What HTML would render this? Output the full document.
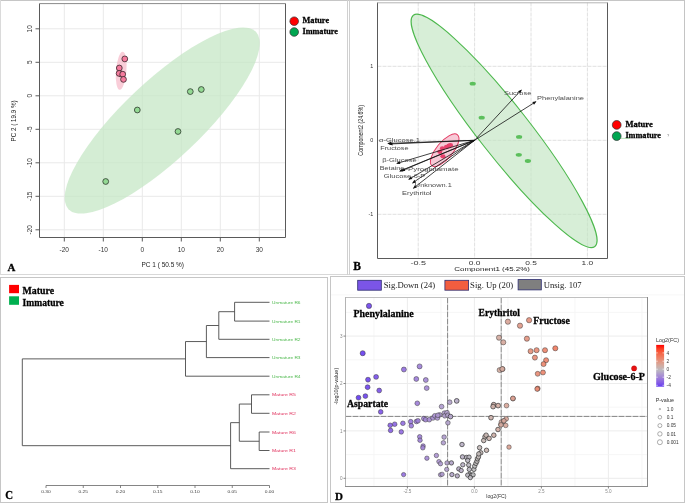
<!DOCTYPE html>
<html><head><meta charset="utf-8"><style>
html,body{margin:0;padding:0;background:#fff;}
svg{display:block;will-change:transform;}
.S{font-family:"Liberation Sans", sans-serif;}
.R{font-family:"Liberation Serif", serif;}
</style></head><body>
<svg width="685" height="503" viewBox="0 0 685 503">
<rect width="685" height="503" fill="#fff"/>
<line x1="0" y1="0.5" x2="685" y2="0.5" stroke="#c6c6c6"/>
<line x1="0" y1="274.5" x2="685" y2="274.5" stroke="#d8d8d8"/>
<line x1="0.5" y1="0" x2="0.5" y2="275" stroke="#dadada"/>
<line x1="347.5" y1="0" x2="347.5" y2="275" stroke="#d0d0d0"/>
<line x1="349.5" y1="0" x2="349.5" y2="275" stroke="#d0d0d0"/>
<line x1="684.5" y1="0" x2="684.5" y2="275" stroke="#c4c4c4"/>
<rect x="0.5" y="277.5" width="327" height="225" fill="none" stroke="#c6c6c6"/>
<rect x="330.5" y="276.5" width="354" height="226" fill="none" stroke="#c6c6c6"/>
<line x1="64.3" y1="3.5" x2="64.3" y2="237.5" stroke="#e9e9e9" stroke-width="1"/>
<line x1="103.3" y1="3.5" x2="103.3" y2="237.5" stroke="#e9e9e9" stroke-width="1"/>
<line x1="142.3" y1="3.5" x2="142.3" y2="237.5" stroke="#e9e9e9" stroke-width="1"/>
<line x1="181.3" y1="3.5" x2="181.3" y2="237.5" stroke="#e9e9e9" stroke-width="1"/>
<line x1="220.3" y1="3.5" x2="220.3" y2="237.5" stroke="#e9e9e9" stroke-width="1"/>
<line x1="259.3" y1="3.5" x2="259.3" y2="237.5" stroke="#e9e9e9" stroke-width="1"/>
<line x1="39.5" y1="28.8" x2="285.5" y2="28.8" stroke="#e9e9e9" stroke-width="1"/>
<line x1="39.5" y1="62.3" x2="285.5" y2="62.3" stroke="#e9e9e9" stroke-width="1"/>
<line x1="39.5" y1="95.8" x2="285.5" y2="95.8" stroke="#e9e9e9" stroke-width="1"/>
<line x1="39.5" y1="129.3" x2="285.5" y2="129.3" stroke="#e9e9e9" stroke-width="1"/>
<line x1="39.5" y1="162.8" x2="285.5" y2="162.8" stroke="#e9e9e9" stroke-width="1"/>
<line x1="39.5" y1="196.3" x2="285.5" y2="196.3" stroke="#e9e9e9" stroke-width="1"/>
<line x1="39.5" y1="229.8" x2="285.5" y2="229.8" stroke="#e9e9e9" stroke-width="1"/>
<ellipse cx="162.2" cy="120.5" rx="129" ry="39.3" transform="rotate(-43.4 162.2 120.5)" fill="#c4e6c4" fill-opacity="0.72"/>
<ellipse cx="121.2" cy="70.8" rx="5.2" ry="19" transform="rotate(4.8 121.2 70.8)" fill="#f7bccb" fill-opacity="0.75"/>
<path d="M39.5 3.5 V237.5 H285.5 V3.5" fill="none" stroke="#5a5a5a" stroke-width="1"/>
<line x1="39.5" y1="3.6" x2="285.5" y2="3.6" stroke="#8a8a8a" stroke-width="1"/>
<line x1="35.5" y1="28.8" x2="39.5" y2="28.8" stroke="#5a5a5a"/>
<text class="S" font-size="6.5" fill="#333" text-anchor="middle" transform="translate(31.8 28.8) rotate(-90)">10</text>
<line x1="35.5" y1="62.3" x2="39.5" y2="62.3" stroke="#5a5a5a"/>
<text class="S" font-size="6.5" fill="#333" text-anchor="middle" transform="translate(31.8 62.3) rotate(-90)">5</text>
<line x1="35.5" y1="95.8" x2="39.5" y2="95.8" stroke="#5a5a5a"/>
<text class="S" font-size="6.5" fill="#333" text-anchor="middle" transform="translate(31.8 95.8) rotate(-90)">0</text>
<line x1="35.5" y1="129.3" x2="39.5" y2="129.3" stroke="#5a5a5a"/>
<text class="S" font-size="6.5" fill="#333" text-anchor="middle" transform="translate(31.8 129.3) rotate(-90)">-5</text>
<line x1="35.5" y1="162.8" x2="39.5" y2="162.8" stroke="#5a5a5a"/>
<text class="S" font-size="6.5" fill="#333" text-anchor="middle" transform="translate(31.8 162.8) rotate(-90)">-10</text>
<line x1="35.5" y1="196.3" x2="39.5" y2="196.3" stroke="#5a5a5a"/>
<text class="S" font-size="6.5" fill="#333" text-anchor="middle" transform="translate(31.8 196.3) rotate(-90)">-15</text>
<line x1="35.5" y1="229.8" x2="39.5" y2="229.8" stroke="#5a5a5a"/>
<text class="S" font-size="6.5" fill="#333" text-anchor="middle" transform="translate(31.8 229.8) rotate(-90)">-20</text>
<line x1="64.3" y1="237.5" x2="64.3" y2="241.5" stroke="#5a5a5a"/>
<text x="64.3" y="251.8" class="S" font-size="6.5" fill="#333" text-anchor="middle">-20</text>
<line x1="103.3" y1="237.5" x2="103.3" y2="241.5" stroke="#5a5a5a"/>
<text x="103.3" y="251.8" class="S" font-size="6.5" fill="#333" text-anchor="middle">-10</text>
<line x1="142.3" y1="237.5" x2="142.3" y2="241.5" stroke="#5a5a5a"/>
<text x="142.3" y="251.8" class="S" font-size="6.5" fill="#333" text-anchor="middle">0</text>
<line x1="181.3" y1="237.5" x2="181.3" y2="241.5" stroke="#5a5a5a"/>
<text x="181.3" y="251.8" class="S" font-size="6.5" fill="#333" text-anchor="middle">10</text>
<line x1="220.3" y1="237.5" x2="220.3" y2="241.5" stroke="#5a5a5a"/>
<text x="220.3" y="251.8" class="S" font-size="6.5" fill="#333" text-anchor="middle">20</text>
<line x1="259.3" y1="237.5" x2="259.3" y2="241.5" stroke="#5a5a5a"/>
<text x="259.3" y="251.8" class="S" font-size="6.5" fill="#333" text-anchor="middle">30</text>
<text x="141.5" y="266.8" class="S" font-size="6.5" fill="#222" textLength="42.5" lengthAdjust="spacingAndGlyphs">PC 1 ( 50.5 %)</text>
<text class="S" font-size="6.4" fill="#222" text-anchor="middle" textLength="41" lengthAdjust="spacingAndGlyphs" transform="translate(15.8 120.9) rotate(-90)">PC 2 ( 19.9 %)</text>
<circle cx="124.8" cy="58.9" r="2.9" fill="#f57b9d" stroke="#3a2a2e" stroke-width="0.8"/>
<circle cx="119.3" cy="68.0" r="2.9" fill="#f57b9d" stroke="#3a2a2e" stroke-width="0.8"/>
<circle cx="121.2" cy="74.0" r="2.9" fill="#f57b9d" stroke="#3a2a2e" stroke-width="0.8"/>
<circle cx="119.1" cy="73.4" r="2.9" fill="#f57b9d" stroke="#3a2a2e" stroke-width="0.8"/>
<circle cx="122.7" cy="74.2" r="2.9" fill="#f57b9d" stroke="#3a2a2e" stroke-width="0.8"/>
<circle cx="123.5" cy="79.4" r="2.9" fill="#f57b9d" stroke="#3a2a2e" stroke-width="0.8"/>
<circle cx="105.7" cy="181.5" r="2.9" fill="#93d993" stroke="#2e3a2e" stroke-width="0.8"/>
<circle cx="137.3" cy="110.0" r="2.9" fill="#93d993" stroke="#2e3a2e" stroke-width="0.8"/>
<circle cx="178.0" cy="131.5" r="2.9" fill="#93d993" stroke="#2e3a2e" stroke-width="0.8"/>
<circle cx="190.3" cy="91.6" r="2.9" fill="#93d993" stroke="#2e3a2e" stroke-width="0.8"/>
<circle cx="201.3" cy="89.5" r="2.9" fill="#93d993" stroke="#2e3a2e" stroke-width="0.8"/>
<circle cx="294.2" cy="21.2" r="4.3" fill="#ff0000" stroke="#333" stroke-width="0.7"/>
<circle cx="294.2" cy="32" r="4.3" fill="#00a651" stroke="#333" stroke-width="0.7"/>
<text x="302.5" y="23.4" class="R" font-size="8.4" font-weight="bold" stroke="#000" stroke-width="0.28" fill="#000" textLength="26.6" lengthAdjust="spacingAndGlyphs">Mature</text>
<text x="302.5" y="34.2" class="R" font-size="8.4" font-weight="bold" stroke="#000" stroke-width="0.28" fill="#000" textLength="35.4" lengthAdjust="spacingAndGlyphs">Immature</text>
<text x="7.5" y="271.4" class="R" font-size="10.9" font-weight="bold" stroke="#000" stroke-width="0.28" fill="#000">A</text>
<line x1="418.2" y1="2.5" x2="418.2" y2="258.5" stroke="#e0e0e0" stroke-width="1" stroke-dasharray="4 1"/>
<line x1="474.6" y1="2.5" x2="474.6" y2="258.5" stroke="#e0e0e0" stroke-width="1" stroke-dasharray="4 1"/>
<line x1="531.0" y1="2.5" x2="531.0" y2="258.5" stroke="#e0e0e0" stroke-width="1" stroke-dasharray="4 1"/>
<line x1="587.4" y1="2.5" x2="587.4" y2="258.5" stroke="#e0e0e0" stroke-width="1" stroke-dasharray="4 1"/>
<line x1="377.5" y1="66.3" x2="607.5" y2="66.3" stroke="#e0e0e0" stroke-width="1" stroke-dasharray="4 1"/>
<line x1="377.5" y1="140.3" x2="607.5" y2="140.3" stroke="#e0e0e0" stroke-width="1" stroke-dasharray="4 1"/>
<line x1="377.5" y1="214.3" x2="607.5" y2="214.3" stroke="#e0e0e0" stroke-width="1" stroke-dasharray="4 1"/>
<ellipse cx="504.1" cy="130.9" rx="147" ry="25.3" transform="rotate(51.87 504.1 130.9)" fill="#c2e5c2" fill-opacity="0.65" stroke="#4db84d" stroke-width="1.1"/>
<ellipse cx="472.7" cy="83.7" rx="3.1" ry="1.9" fill="#5cbf5c"/>
<ellipse cx="481.7" cy="117.7" rx="3.1" ry="1.9" fill="#5cbf5c"/>
<ellipse cx="519.1" cy="136.9" rx="3.1" ry="1.9" fill="#5cbf5c"/>
<ellipse cx="518.8" cy="154.8" rx="3.1" ry="1.9" fill="#5cbf5c"/>
<ellipse cx="527.9" cy="161.0" rx="3.1" ry="1.9" fill="#5cbf5c"/>
<ellipse cx="444.7" cy="150.25" rx="20.1" ry="8.24" transform="rotate(-50.4 444.7 150.25)" fill="#f4b3c6" fill-opacity="0.7" stroke="#e23a62" stroke-width="1"/>
<ellipse cx="449.1" cy="145.6" rx="2.6" ry="2.1" fill="#e8406c"/>
<ellipse cx="446.5" cy="146.9" rx="2.6" ry="2.1" fill="#e8406c"/>
<ellipse cx="442.4" cy="148.4" rx="2.6" ry="2.1" fill="#e8406c"/>
<ellipse cx="439.8" cy="151.8" rx="2.6" ry="2.1" fill="#e8406c"/>
<ellipse cx="442.9" cy="156.3" rx="2.6" ry="2.1" fill="#e8406c"/>
<ellipse cx="450.5" cy="145.2" rx="2.6" ry="2.1" fill="#e8406c"/>
<line x1="474.6" y1="140.3" x2="388.2" y2="143.4" stroke="#111" stroke-width="0.8"/>
<path d="M387.2 143.4 L391.1 141.7 L391.3 144.9 Z" fill="#111"/>
<line x1="474.6" y1="140.3" x2="389.5" y2="144.0" stroke="#111" stroke-width="0.8"/>
<path d="M388.5 144.0 L392.4 142.2 L392.6 145.4 Z" fill="#111"/>
<line x1="474.6" y1="140.3" x2="397.1" y2="163.4" stroke="#111" stroke-width="0.8"/>
<path d="M396.1 163.7 L399.5 161.0 L400.4 164.1 Z" fill="#111"/>
<line x1="474.6" y1="140.3" x2="400.0" y2="171.0" stroke="#111" stroke-width="0.8"/>
<path d="M399.1 171.4 L402.2 168.4 L403.4 171.4 Z" fill="#111"/>
<line x1="474.6" y1="140.3" x2="401.9" y2="170.6" stroke="#111" stroke-width="0.8"/>
<path d="M401.0 171.0 L404.1 168.0 L405.3 170.9 Z" fill="#111"/>
<line x1="474.6" y1="140.3" x2="409.0" y2="179.3" stroke="#111" stroke-width="0.8"/>
<path d="M408.1 179.8 L410.7 176.4 L412.4 179.1 Z" fill="#111"/>
<line x1="474.6" y1="140.3" x2="412.8" y2="182.8" stroke="#111" stroke-width="0.8"/>
<path d="M412.0 183.4 L414.4 179.8 L416.2 182.4 Z" fill="#111"/>
<line x1="474.6" y1="140.3" x2="413.6" y2="188.1" stroke="#111" stroke-width="0.8"/>
<path d="M412.8 188.7 L415.0 185.0 L416.9 187.5 Z" fill="#111"/>
<line x1="474.6" y1="140.3" x2="521.2" y2="90.1" stroke="#111" stroke-width="0.8"/>
<path d="M521.9 89.4 L520.3 93.4 L518.0 91.2 Z" fill="#111"/>
<line x1="474.6" y1="140.3" x2="535.7" y2="101.8" stroke="#111" stroke-width="0.8"/>
<path d="M536.5 101.3 L534.0 104.8 L532.3 102.1 Z" fill="#111"/>
<text x="379.0" y="141.9" class="S" font-size="5.4" fill="#4a4a4a" textLength="41" lengthAdjust="spacingAndGlyphs">α-Glucose.1</text>
<text x="380.2" y="149.5" class="S" font-size="5.4" fill="#4a4a4a" textLength="28.4" lengthAdjust="spacingAndGlyphs">Fructose</text>
<text x="382.2" y="161.6" class="S" font-size="5.4" fill="#4a4a4a" textLength="34.5" lengthAdjust="spacingAndGlyphs">β-Glucose</text>
<text x="379.8" y="169.5" class="S" font-size="5.4" fill="#4a4a4a" textLength="24.5" lengthAdjust="spacingAndGlyphs">Betaine</text>
<text x="405.5" y="170.9" class="S" font-size="5.4" fill="#4a4a4a" textLength="53" lengthAdjust="spacingAndGlyphs">-Pyroglutamate</text>
<text x="383.8" y="178.0" class="S" font-size="5.4" fill="#4a4a4a" textLength="41.5" lengthAdjust="spacingAndGlyphs">Glucose-6-P</text>
<text x="414.8" y="187.4" class="S" font-size="5.4" fill="#4a4a4a" textLength="37" lengthAdjust="spacingAndGlyphs">Unknown.1</text>
<text x="402.0" y="195.0" class="S" font-size="5.4" fill="#4a4a4a" textLength="29.5" lengthAdjust="spacingAndGlyphs">Erythritol</text>
<text x="504.0" y="95.4" class="S" font-size="5.4" fill="#4a4a4a" textLength="27.3" lengthAdjust="spacingAndGlyphs">Sucrose</text>
<text x="537.0" y="99.9" class="S" font-size="5.4" fill="#4a4a4a" textLength="47" lengthAdjust="spacingAndGlyphs">Phenylalanine</text>
<path d="M377.5 2.5 V258.5 H607.5 V2.5" fill="none" stroke="#5a5a5a" stroke-width="1"/>
<line x1="377.5" y1="2.8" x2="607.5" y2="2.8" stroke="#b4b4b4" stroke-width="1"/>
<text x="373.2" y="68.2" class="S" font-size="5.4" fill="#333" text-anchor="end">1</text>
<text x="373.2" y="142.2" class="S" font-size="5.4" fill="#333" text-anchor="end">0</text>
<text x="373.2" y="216.2" class="S" font-size="5.4" fill="#333" text-anchor="end">-1</text>
<text x="418.2" y="264.8" class="S" font-size="5.4" fill="#333" text-anchor="middle" textLength="15.6" lengthAdjust="spacingAndGlyphs">-0.5</text>
<text x="474.6" y="264.8" class="S" font-size="5.4" fill="#333" text-anchor="middle" textLength="11.7" lengthAdjust="spacingAndGlyphs">0.0</text>
<text x="531.0" y="264.8" class="S" font-size="5.4" fill="#333" text-anchor="middle" textLength="11.7" lengthAdjust="spacingAndGlyphs">0.5</text>
<text x="587.4" y="264.8" class="S" font-size="5.4" fill="#333" text-anchor="middle" textLength="11.7" lengthAdjust="spacingAndGlyphs">1.0</text>
<text x="454.3" y="270.8" class="S" font-size="5.6" fill="#222" textLength="75.7" lengthAdjust="spacingAndGlyphs">Component1 (45.2%)</text>
<text class="S" font-size="5.4" fill="#222" text-anchor="middle" textLength="50.8" lengthAdjust="spacingAndGlyphs" transform="translate(363.4 130.3) rotate(-90) scale(1 1.35)">Component2 (24.6%)</text>
<circle cx="616.7" cy="124.9" r="4.4" fill="#ff0000" stroke="#333" stroke-width="0.7"/>
<circle cx="616.7" cy="136.1" r="4.4" fill="#00a651" stroke="#333" stroke-width="0.7"/>
<text x="625.4" y="126.9" class="R" font-size="8.2" font-weight="bold" stroke="#000" stroke-width="0.28" fill="#000" textLength="27.3" lengthAdjust="spacingAndGlyphs">Mature</text>
<text x="625.4" y="138.0" class="R" font-size="8.2" font-weight="bold" stroke="#000" stroke-width="0.28" fill="#000" textLength="35.6" lengthAdjust="spacingAndGlyphs">Immature</text>
<text x="667" y="136.5" class="S" font-size="4" fill="#777">?</text>
<line x1="621" y1="138.4" x2="630" y2="138.4" stroke="#8c8" stroke-width="0.6"/>
<text x="353.3" y="270.4" class="R" font-size="11.5" font-weight="bold" stroke="#000" stroke-width="0.28" fill="#000">B</text>
<rect x="9.1" y="284.9" width="9.9" height="8.3" fill="#ff0000"/>
<rect x="9.1" y="296.3" width="9.9" height="8.5" fill="#00b050"/>
<text x="22.6" y="293.6" class="R" font-size="10" font-weight="bold" stroke="#000" stroke-width="0.28" fill="#000" textLength="31.4" lengthAdjust="spacingAndGlyphs">Mature</text>
<text x="22.6" y="305.7" class="R" font-size="10" font-weight="bold" stroke="#000" stroke-width="0.28" fill="#000" textLength="41.2" lengthAdjust="spacingAndGlyphs">Immature</text>
<line x1="234.6" y1="302.3" x2="234.6" y2="321.1" stroke="#4a4a4a" stroke-width="0.9"/>
<line x1="234.6" y1="302.3" x2="269.5" y2="302.3" stroke="#4a4a4a" stroke-width="0.9"/>
<line x1="234.6" y1="321.1" x2="269.5" y2="321.1" stroke="#4a4a4a" stroke-width="0.9"/>
<line x1="218.8" y1="311.70000000000005" x2="218.8" y2="339.3" stroke="#4a4a4a" stroke-width="0.9"/>
<line x1="218.8" y1="311.70000000000005" x2="234.6" y2="311.70000000000005" stroke="#4a4a4a" stroke-width="0.9"/>
<line x1="218.8" y1="339.3" x2="269.5" y2="339.3" stroke="#4a4a4a" stroke-width="0.9"/>
<line x1="206.4" y1="325.5" x2="206.4" y2="357.6" stroke="#4a4a4a" stroke-width="0.9"/>
<line x1="206.4" y1="325.5" x2="218.8" y2="325.5" stroke="#4a4a4a" stroke-width="0.9"/>
<line x1="206.4" y1="357.6" x2="269.5" y2="357.6" stroke="#4a4a4a" stroke-width="0.9"/>
<line x1="185.5" y1="341.55" x2="185.5" y2="376.2" stroke="#4a4a4a" stroke-width="0.9"/>
<line x1="185.5" y1="341.55" x2="206.4" y2="341.55" stroke="#4a4a4a" stroke-width="0.9"/>
<line x1="185.5" y1="376.2" x2="269.5" y2="376.2" stroke="#4a4a4a" stroke-width="0.9"/>
<line x1="251.5" y1="394.8" x2="251.5" y2="413.3" stroke="#4a4a4a" stroke-width="0.9"/>
<line x1="251.5" y1="394.8" x2="269.5" y2="394.8" stroke="#4a4a4a" stroke-width="0.9"/>
<line x1="251.5" y1="413.3" x2="269.5" y2="413.3" stroke="#4a4a4a" stroke-width="0.9"/>
<line x1="259.2" y1="432.0" x2="259.2" y2="450.5" stroke="#4a4a4a" stroke-width="0.9"/>
<line x1="259.2" y1="432.0" x2="269.5" y2="432.0" stroke="#4a4a4a" stroke-width="0.9"/>
<line x1="259.2" y1="450.5" x2="269.5" y2="450.5" stroke="#4a4a4a" stroke-width="0.9"/>
<line x1="239.3" y1="404.05" x2="239.3" y2="441.25" stroke="#4a4a4a" stroke-width="0.9"/>
<line x1="239.3" y1="404.05" x2="251.5" y2="404.05" stroke="#4a4a4a" stroke-width="0.9"/>
<line x1="239.3" y1="441.25" x2="259.2" y2="441.25" stroke="#4a4a4a" stroke-width="0.9"/>
<line x1="230.6" y1="422.65" x2="230.6" y2="468.7" stroke="#4a4a4a" stroke-width="0.9"/>
<line x1="230.6" y1="422.65" x2="239.3" y2="422.65" stroke="#4a4a4a" stroke-width="0.9"/>
<line x1="230.6" y1="468.7" x2="269.5" y2="468.7" stroke="#4a4a4a" stroke-width="0.9"/>
<line x1="22.3" y1="358.875" x2="22.3" y2="445.67499999999995" stroke="#4a4a4a" stroke-width="0.9"/>
<line x1="22.3" y1="358.875" x2="185.5" y2="358.875" stroke="#4a4a4a" stroke-width="0.9"/>
<line x1="22.3" y1="445.67499999999995" x2="230.6" y2="445.67499999999995" stroke="#4a4a4a" stroke-width="0.9"/>
<text x="272.1" y="303.8" class="S" font-size="4.2" fill="#4cb84c" textLength="28.4" lengthAdjust="spacingAndGlyphs">Unmature  R6</text>
<text x="272.1" y="322.6" class="S" font-size="4.2" fill="#4cb84c" textLength="28.4" lengthAdjust="spacingAndGlyphs">Unmature  R1</text>
<text x="272.1" y="340.8" class="S" font-size="4.2" fill="#4cb84c" textLength="28.4" lengthAdjust="spacingAndGlyphs">Unmature  R2</text>
<text x="272.1" y="359.1" class="S" font-size="4.2" fill="#4cb84c" textLength="28.4" lengthAdjust="spacingAndGlyphs">Unmature  R3</text>
<text x="272.1" y="377.7" class="S" font-size="4.2" fill="#4cb84c" textLength="28.4" lengthAdjust="spacingAndGlyphs">Unmature  R4</text>
<text x="271.9" y="396.3" class="S" font-size="4.2" fill="#e0305c" textLength="24" lengthAdjust="spacingAndGlyphs">Mature R5</text>
<text x="271.9" y="414.8" class="S" font-size="4.2" fill="#e0305c" textLength="24" lengthAdjust="spacingAndGlyphs">Mature R2</text>
<text x="271.9" y="433.5" class="S" font-size="4.2" fill="#e0305c" textLength="24" lengthAdjust="spacingAndGlyphs">Mature R6</text>
<text x="271.9" y="452.0" class="S" font-size="4.2" fill="#e0305c" textLength="24" lengthAdjust="spacingAndGlyphs">Mature R1</text>
<text x="271.9" y="470.2" class="S" font-size="4.2" fill="#e0305c" textLength="24" lengthAdjust="spacingAndGlyphs">Mature R3</text>
<line x1="46" y1="485.5" x2="269.5" y2="485.5" stroke="#666" stroke-width="0.8"/>
<line x1="46.00" y1="485.5" x2="46.00" y2="488" stroke="#666" stroke-width="0.8"/>
<text x="46.00" y="493" class="S" font-size="3.6" fill="#444" text-anchor="middle" textLength="9.5" lengthAdjust="spacingAndGlyphs">0.30</text>
<line x1="83.25" y1="485.5" x2="83.25" y2="488" stroke="#666" stroke-width="0.8"/>
<text x="83.25" y="493" class="S" font-size="3.6" fill="#444" text-anchor="middle" textLength="9.5" lengthAdjust="spacingAndGlyphs">0.25</text>
<line x1="120.50" y1="485.5" x2="120.50" y2="488" stroke="#666" stroke-width="0.8"/>
<text x="120.50" y="493" class="S" font-size="3.6" fill="#444" text-anchor="middle" textLength="9.5" lengthAdjust="spacingAndGlyphs">0.20</text>
<line x1="157.75" y1="485.5" x2="157.75" y2="488" stroke="#666" stroke-width="0.8"/>
<text x="157.75" y="493" class="S" font-size="3.6" fill="#444" text-anchor="middle" textLength="9.5" lengthAdjust="spacingAndGlyphs">0.15</text>
<line x1="195.00" y1="485.5" x2="195.00" y2="488" stroke="#666" stroke-width="0.8"/>
<text x="195.00" y="493" class="S" font-size="3.6" fill="#444" text-anchor="middle" textLength="9.5" lengthAdjust="spacingAndGlyphs">0.10</text>
<line x1="232.25" y1="485.5" x2="232.25" y2="488" stroke="#666" stroke-width="0.8"/>
<text x="232.25" y="493" class="S" font-size="3.6" fill="#444" text-anchor="middle" textLength="9.5" lengthAdjust="spacingAndGlyphs">0.05</text>
<line x1="269.50" y1="485.5" x2="269.50" y2="488" stroke="#666" stroke-width="0.8"/>
<text x="269.50" y="493" class="S" font-size="3.6" fill="#444" text-anchor="middle" textLength="9.5" lengthAdjust="spacingAndGlyphs">0.00</text>
<text x="5.3" y="499.4" class="R" font-size="12" font-weight="bold" stroke="#000" stroke-width="0.28" fill="#000" textLength="7.8" lengthAdjust="spacingAndGlyphs">C</text>
<line x1="373.9" y1="297.5" x2="373.9" y2="486.5" stroke="#f4f4f4" stroke-width="0.8"/>
<line x1="440.9" y1="297.5" x2="440.9" y2="486.5" stroke="#f4f4f4" stroke-width="0.8"/>
<line x1="507.9" y1="297.5" x2="507.9" y2="486.5" stroke="#f4f4f4" stroke-width="0.8"/>
<line x1="574.9" y1="297.5" x2="574.9" y2="486.5" stroke="#f4f4f4" stroke-width="0.8"/>
<line x1="641.9" y1="297.5" x2="641.9" y2="486.5" stroke="#f4f4f4" stroke-width="0.8"/>
<line x1="407.4" y1="297.5" x2="407.4" y2="486.5" stroke="#ececec" stroke-width="1"/>
<line x1="474.4" y1="297.5" x2="474.4" y2="486.5" stroke="#ececec" stroke-width="1"/>
<line x1="541.4" y1="297.5" x2="541.4" y2="486.5" stroke="#ececec" stroke-width="1"/>
<line x1="608.4" y1="297.5" x2="608.4" y2="486.5" stroke="#ececec" stroke-width="1"/>
<line x1="345.5" y1="454.6" x2="647.5" y2="454.6" stroke="#f4f4f4" stroke-width="0.8"/>
<line x1="345.5" y1="407.2" x2="647.5" y2="407.2" stroke="#f4f4f4" stroke-width="0.8"/>
<line x1="345.5" y1="359.8" x2="647.5" y2="359.8" stroke="#f4f4f4" stroke-width="0.8"/>
<line x1="345.5" y1="312.4" x2="647.5" y2="312.4" stroke="#f4f4f4" stroke-width="0.8"/>
<line x1="345.5" y1="478.3" x2="647.5" y2="478.3" stroke="#ececec" stroke-width="1"/>
<line x1="345.5" y1="430.9" x2="647.5" y2="430.9" stroke="#ececec" stroke-width="1"/>
<line x1="345.5" y1="383.5" x2="647.5" y2="383.5" stroke="#ececec" stroke-width="1"/>
<line x1="345.5" y1="336.1" x2="647.5" y2="336.1" stroke="#ececec" stroke-width="1"/>
<line x1="447.6" y1="297.5" x2="447.6" y2="486.5" stroke="#757575" stroke-width="0.9" stroke-dasharray="6 1"/>
<line x1="501.2" y1="297.5" x2="501.2" y2="486.5" stroke="#757575" stroke-width="0.9" stroke-dasharray="6 1"/>
<line x1="345.5" y1="416.4" x2="647.5" y2="416.4" stroke="#757575" stroke-width="0.9" stroke-dasharray="6 1"/>
<circle cx="369.0" cy="305.9" r="2.63" fill="#7148ec" fill-opacity="0.92" stroke="#333" stroke-opacity="0.8" stroke-width="0.6"/>
<circle cx="362.7" cy="353.2" r="2.55" fill="#6940ef" fill-opacity="0.92" stroke="#333" stroke-opacity="0.8" stroke-width="0.6"/>
<circle cx="376.1" cy="376.9" r="2.47" fill="#7a51e9" fill-opacity="0.92" stroke="#333" stroke-opacity="0.8" stroke-width="0.6"/>
<circle cx="368.0" cy="379.7" r="2.46" fill="#7047ed" fill-opacity="0.92" stroke="#333" stroke-opacity="0.8" stroke-width="0.6"/>
<circle cx="367.6" cy="387.2" r="2.44" fill="#7047ed" fill-opacity="0.92" stroke="#333" stroke-opacity="0.8" stroke-width="0.6"/>
<circle cx="379.2" cy="390.5" r="2.43" fill="#7d54e8" fill-opacity="0.92" stroke="#333" stroke-opacity="0.8" stroke-width="0.6"/>
<circle cx="365.4" cy="396.1" r="2.41" fill="#6d44ee" fill-opacity="0.92" stroke="#333" stroke-opacity="0.8" stroke-width="0.6"/>
<circle cx="358.5" cy="397.7" r="2.41" fill="#643cf0" fill-opacity="0.92" stroke="#333" stroke-opacity="0.8" stroke-width="0.6"/>
<circle cx="380.7" cy="411.9" r="2.36" fill="#7f56e8" fill-opacity="0.92" stroke="#333" stroke-opacity="0.8" stroke-width="0.6"/>
<circle cx="403.9" cy="369.5" r="2.49" fill="#9470de" fill-opacity="0.92" stroke="#333" stroke-opacity="0.8" stroke-width="0.6"/>
<circle cx="419.6" cy="366.4" r="2.50" fill="#a082d8" fill-opacity="0.92" stroke="#333" stroke-opacity="0.8" stroke-width="0.6"/>
<circle cx="416.3" cy="379.0" r="2.46" fill="#9d7ed9" fill-opacity="0.92" stroke="#333" stroke-opacity="0.8" stroke-width="0.6"/>
<circle cx="425.8" cy="380.0" r="2.46" fill="#a489d5" fill-opacity="0.92" stroke="#333" stroke-opacity="0.8" stroke-width="0.6"/>
<circle cx="426.7" cy="388.1" r="2.44" fill="#a58ad4" fill-opacity="0.92" stroke="#333" stroke-opacity="0.8" stroke-width="0.6"/>
<circle cx="417.3" cy="403.3" r="2.39" fill="#9e7fd8" fill-opacity="0.92" stroke="#333" stroke-opacity="0.8" stroke-width="0.6"/>
<circle cx="390.2" cy="425.3" r="2.32" fill="#8861e4" fill-opacity="0.92" stroke="#333" stroke-opacity="0.8" stroke-width="0.6"/>
<circle cx="394.7" cy="424.2" r="2.32" fill="#8c66e2" fill-opacity="0.92" stroke="#333" stroke-opacity="0.8" stroke-width="0.6"/>
<circle cx="390.6" cy="430.4" r="2.30" fill="#8861e4" fill-opacity="0.92" stroke="#333" stroke-opacity="0.8" stroke-width="0.6"/>
<circle cx="402.9" cy="423.3" r="2.32" fill="#936fdf" fill-opacity="0.92" stroke="#333" stroke-opacity="0.8" stroke-width="0.6"/>
<circle cx="401.3" cy="431.9" r="2.30" fill="#926ddf" fill-opacity="0.92" stroke="#333" stroke-opacity="0.8" stroke-width="0.6"/>
<circle cx="410.7" cy="421.7" r="2.33" fill="#9978db" fill-opacity="0.92" stroke="#333" stroke-opacity="0.8" stroke-width="0.6"/>
<circle cx="411.3" cy="425.8" r="2.32" fill="#9a79db" fill-opacity="0.92" stroke="#333" stroke-opacity="0.8" stroke-width="0.6"/>
<circle cx="416.4" cy="421.5" r="2.33" fill="#9e7ed9" fill-opacity="0.92" stroke="#333" stroke-opacity="0.8" stroke-width="0.6"/>
<circle cx="418.0" cy="420.8" r="2.33" fill="#9f80d8" fill-opacity="0.92" stroke="#333" stroke-opacity="0.8" stroke-width="0.6"/>
<circle cx="423.8" cy="418.6" r="2.34" fill="#a386d6" fill-opacity="0.92" stroke="#333" stroke-opacity="0.8" stroke-width="0.6"/>
<circle cx="425.6" cy="419.7" r="2.34" fill="#a488d5" fill-opacity="0.92" stroke="#333" stroke-opacity="0.8" stroke-width="0.6"/>
<circle cx="429.3" cy="419.7" r="2.34" fill="#a68cd3" fill-opacity="0.92" stroke="#333" stroke-opacity="0.8" stroke-width="0.6"/>
<circle cx="433.0" cy="418.0" r="2.34" fill="#a990d2" fill-opacity="0.92" stroke="#333" stroke-opacity="0.8" stroke-width="0.6"/>
<circle cx="434.8" cy="415.8" r="2.35" fill="#aa92d1" fill-opacity="0.92" stroke="#333" stroke-opacity="0.8" stroke-width="0.6"/>
<circle cx="437.4" cy="418.0" r="2.34" fill="#ab95d0" fill-opacity="0.92" stroke="#333" stroke-opacity="0.8" stroke-width="0.6"/>
<circle cx="439.6" cy="414.9" r="2.35" fill="#ad98cf" fill-opacity="0.92" stroke="#333" stroke-opacity="0.8" stroke-width="0.6"/>
<circle cx="437.8" cy="415.3" r="2.35" fill="#ac96cf" fill-opacity="0.92" stroke="#333" stroke-opacity="0.8" stroke-width="0.6"/>
<circle cx="444.4" cy="413.1" r="2.36" fill="#af9dcc" fill-opacity="0.92" stroke="#333" stroke-opacity="0.8" stroke-width="0.6"/>
<circle cx="444.8" cy="415.8" r="2.35" fill="#b09dcc" fill-opacity="0.92" stroke="#333" stroke-opacity="0.8" stroke-width="0.6"/>
<circle cx="447.0" cy="412.7" r="2.36" fill="#b1a0cb" fill-opacity="0.92" stroke="#333" stroke-opacity="0.8" stroke-width="0.6"/>
<circle cx="447.9" cy="415.3" r="2.35" fill="#b1a1cb" fill-opacity="0.92" stroke="#333" stroke-opacity="0.8" stroke-width="0.6"/>
<circle cx="450.5" cy="416.6" r="2.35" fill="#b3a4ca" fill-opacity="0.92" stroke="#333" stroke-opacity="0.95" stroke-width="0.75"/>
<circle cx="447.9" cy="422.8" r="2.33" fill="#b1a1cb" fill-opacity="0.92" stroke="#333" stroke-opacity="0.8" stroke-width="0.6"/>
<circle cx="441.6" cy="406.6" r="2.38" fill="#ae9ace" fill-opacity="0.92" stroke="#333" stroke-opacity="0.8" stroke-width="0.6"/>
<circle cx="449.7" cy="402.2" r="2.39" fill="#b2a3ca" fill-opacity="0.92" stroke="#333" stroke-opacity="0.8" stroke-width="0.6"/>
<circle cx="456.7" cy="400.9" r="2.39" fill="#b6abc7" fill-opacity="0.92" stroke="#333" stroke-opacity="0.95" stroke-width="0.75"/>
<circle cx="419.7" cy="436.8" r="2.28" fill="#a082d7" fill-opacity="0.92" stroke="#333" stroke-opacity="0.8" stroke-width="0.6"/>
<circle cx="420.0" cy="440.2" r="2.27" fill="#a082d7" fill-opacity="0.92" stroke="#333" stroke-opacity="0.8" stroke-width="0.6"/>
<circle cx="423.1" cy="446.0" r="2.25" fill="#a286d6" fill-opacity="0.92" stroke="#333" stroke-opacity="0.8" stroke-width="0.6"/>
<circle cx="422.8" cy="447.8" r="2.25" fill="#a285d6" fill-opacity="0.92" stroke="#333" stroke-opacity="0.8" stroke-width="0.6"/>
<circle cx="426.9" cy="458.2" r="2.21" fill="#a58ad4" fill-opacity="0.92" stroke="#333" stroke-opacity="0.8" stroke-width="0.6"/>
<circle cx="403.6" cy="474.6" r="2.16" fill="#9470de" fill-opacity="0.92" stroke="#333" stroke-opacity="0.8" stroke-width="0.6"/>
<circle cx="444.1" cy="437.1" r="2.28" fill="#af9dcd" fill-opacity="0.92" stroke="#333" stroke-opacity="0.8" stroke-width="0.6"/>
<circle cx="443.4" cy="442.8" r="2.26" fill="#af9ccd" fill-opacity="0.92" stroke="#333" stroke-opacity="0.8" stroke-width="0.6"/>
<circle cx="462.0" cy="444.5" r="2.26" fill="#b8b0c4" fill-opacity="0.92" stroke="#333" stroke-opacity="0.95" stroke-width="0.75"/>
<circle cx="436.4" cy="455.5" r="2.22" fill="#ab94d0" fill-opacity="0.92" stroke="#333" stroke-opacity="0.8" stroke-width="0.6"/>
<circle cx="438.9" cy="461.6" r="2.20" fill="#ac97cf" fill-opacity="0.92" stroke="#333" stroke-opacity="0.8" stroke-width="0.6"/>
<circle cx="440.5" cy="463.7" r="2.20" fill="#ad99ce" fill-opacity="0.92" stroke="#333" stroke-opacity="0.8" stroke-width="0.6"/>
<circle cx="447.0" cy="462.9" r="2.20" fill="#b1a0cb" fill-opacity="0.92" stroke="#333" stroke-opacity="0.8" stroke-width="0.6"/>
<circle cx="451.4" cy="462.9" r="2.20" fill="#b3a5c9" fill-opacity="0.92" stroke="#333" stroke-opacity="0.95" stroke-width="0.75"/>
<circle cx="446.7" cy="469.4" r="2.18" fill="#b1a0cb" fill-opacity="0.92" stroke="#333" stroke-opacity="0.8" stroke-width="0.6"/>
<circle cx="440.5" cy="474.8" r="2.16" fill="#ad99ce" fill-opacity="0.92" stroke="#333" stroke-opacity="0.8" stroke-width="0.6"/>
<circle cx="442.1" cy="474.3" r="2.16" fill="#ae9ace" fill-opacity="0.92" stroke="#333" stroke-opacity="0.8" stroke-width="0.6"/>
<circle cx="451.9" cy="474.6" r="2.16" fill="#b3a5c9" fill-opacity="0.92" stroke="#333" stroke-opacity="0.95" stroke-width="0.75"/>
<circle cx="457.3" cy="475.9" r="2.16" fill="#b6abc6" fill-opacity="0.92" stroke="#333" stroke-opacity="0.95" stroke-width="0.75"/>
<circle cx="458.8" cy="468.9" r="2.18" fill="#b7adc6" fill-opacity="0.92" stroke="#333" stroke-opacity="0.95" stroke-width="0.75"/>
<circle cx="461.2" cy="470.5" r="2.17" fill="#b8afc5" fill-opacity="0.92" stroke="#333" stroke-opacity="0.95" stroke-width="0.75"/>
<circle cx="462.8" cy="464.8" r="2.19" fill="#b9b1c4" fill-opacity="0.92" stroke="#333" stroke-opacity="0.95" stroke-width="0.75"/>
<circle cx="462.5" cy="456.9" r="2.22" fill="#b9b1c4" fill-opacity="0.92" stroke="#333" stroke-opacity="0.95" stroke-width="0.75"/>
<circle cx="466.6" cy="457.5" r="2.22" fill="#bbb5c2" fill-opacity="0.92" stroke="#333" stroke-opacity="0.95" stroke-width="0.75"/>
<circle cx="469.0" cy="457.2" r="2.22" fill="#bcb8c1" fill-opacity="0.92" stroke="#333" stroke-opacity="0.95" stroke-width="0.75"/>
<circle cx="467.7" cy="460.4" r="2.21" fill="#bbb7c1" fill-opacity="0.92" stroke="#333" stroke-opacity="0.95" stroke-width="0.75"/>
<circle cx="468.7" cy="465.0" r="2.19" fill="#bcb8c1" fill-opacity="0.92" stroke="#333" stroke-opacity="0.95" stroke-width="0.75"/>
<circle cx="469.3" cy="469.4" r="2.18" fill="#bcb8c1" fill-opacity="0.92" stroke="#333" stroke-opacity="0.95" stroke-width="0.75"/>
<circle cx="469.8" cy="474.3" r="2.16" fill="#bcb9c0" fill-opacity="0.92" stroke="#333" stroke-opacity="0.95" stroke-width="0.75"/>
<circle cx="467.7" cy="475.1" r="2.16" fill="#bbb7c1" fill-opacity="0.92" stroke="#333" stroke-opacity="0.95" stroke-width="0.75"/>
<circle cx="471.5" cy="475.4" r="2.16" fill="#bdbbbf" fill-opacity="0.92" stroke="#333" stroke-opacity="0.95" stroke-width="0.75"/>
<circle cx="473.1" cy="474.8" r="2.16" fill="#bdbdbf" fill-opacity="0.92" stroke="#333" stroke-opacity="0.95" stroke-width="0.75"/>
<circle cx="470.3" cy="477.6" r="2.15" fill="#bcb9c0" fill-opacity="0.92" stroke="#333" stroke-opacity="0.95" stroke-width="0.75"/>
<circle cx="473.9" cy="469.4" r="2.18" fill="#bebdbe" fill-opacity="0.92" stroke="#333" stroke-opacity="0.95" stroke-width="0.75"/>
<circle cx="474.7" cy="466.1" r="2.19" fill="#bebebe" fill-opacity="0.92" stroke="#333" stroke-opacity="0.95" stroke-width="0.75"/>
<circle cx="475.9" cy="463.4" r="2.20" fill="#bfbdbc" fill-opacity="0.92" stroke="#333" stroke-opacity="0.95" stroke-width="0.75"/>
<circle cx="476.9" cy="461.3" r="2.20" fill="#c0bcbb" fill-opacity="0.92" stroke="#333" stroke-opacity="0.95" stroke-width="0.75"/>
<circle cx="477.5" cy="458.8" r="2.21" fill="#c1bcba" fill-opacity="0.92" stroke="#333" stroke-opacity="0.95" stroke-width="0.75"/>
<circle cx="478.5" cy="456.9" r="2.22" fill="#c2bbb9" fill-opacity="0.92" stroke="#333" stroke-opacity="0.95" stroke-width="0.75"/>
<circle cx="480.8" cy="452.8" r="2.23" fill="#c4b9b6" fill-opacity="0.92" stroke="#333" stroke-opacity="0.95" stroke-width="0.75"/>
<circle cx="478.8" cy="453.9" r="2.23" fill="#c2bbb9" fill-opacity="0.92" stroke="#333" stroke-opacity="0.95" stroke-width="0.75"/>
<circle cx="479.6" cy="447.7" r="2.25" fill="#c3bab8" fill-opacity="0.92" stroke="#333" stroke-opacity="0.95" stroke-width="0.75"/>
<circle cx="483.7" cy="440.5" r="2.27" fill="#c6b7b3" fill-opacity="0.92" stroke="#333" stroke-opacity="0.95" stroke-width="0.75"/>
<circle cx="485.0" cy="436.8" r="2.28" fill="#c8b6b1" fill-opacity="0.92" stroke="#333" stroke-opacity="0.95" stroke-width="0.75"/>
<circle cx="486.1" cy="435.2" r="2.29" fill="#c8b5b0" fill-opacity="0.92" stroke="#333" stroke-opacity="0.95" stroke-width="0.75"/>
<circle cx="486.5" cy="450.3" r="2.24" fill="#c9b5b0" fill-opacity="0.92" stroke="#333" stroke-opacity="0.95" stroke-width="0.75"/>
<circle cx="489.1" cy="438.4" r="2.28" fill="#cbb3ad" fill-opacity="0.92" stroke="#333" stroke-opacity="0.95" stroke-width="0.75"/>
<circle cx="493.8" cy="435.2" r="2.29" fill="#ceafa7" fill-opacity="0.92" stroke="#333" stroke-opacity="0.95" stroke-width="0.75"/>
<circle cx="498.0" cy="429.5" r="2.30" fill="#d2aca2" fill-opacity="0.92" stroke="#333" stroke-opacity="0.95" stroke-width="0.75"/>
<circle cx="500.8" cy="424.6" r="2.32" fill="#d3aa9f" fill-opacity="0.92" stroke="#333" stroke-opacity="0.8" stroke-width="0.6"/>
<circle cx="501.3" cy="422.1" r="2.33" fill="#d4a99e" fill-opacity="0.92" stroke="#333" stroke-opacity="0.8" stroke-width="0.6"/>
<circle cx="503.6" cy="421.0" r="2.33" fill="#d5a89c" fill-opacity="0.92" stroke="#333" stroke-opacity="0.8" stroke-width="0.6"/>
<circle cx="505.7" cy="425.4" r="2.32" fill="#d7a699" fill-opacity="0.92" stroke="#333" stroke-opacity="0.8" stroke-width="0.6"/>
<circle cx="506.2" cy="418.9" r="2.34" fill="#d7a699" fill-opacity="0.92" stroke="#333" stroke-opacity="0.8" stroke-width="0.6"/>
<circle cx="491.0" cy="417.7" r="2.34" fill="#ccb1aa" fill-opacity="0.92" stroke="#333" stroke-opacity="0.95" stroke-width="0.75"/>
<circle cx="509.0" cy="447.1" r="2.25" fill="#d9a395" fill-opacity="0.92" stroke="#333" stroke-opacity="0.8" stroke-width="0.6"/>
<circle cx="501.0" cy="424.9" r="2.32" fill="#d4aa9f" fill-opacity="0.92" stroke="#333" stroke-opacity="0.8" stroke-width="0.6"/>
<circle cx="503.9" cy="420.8" r="2.33" fill="#d6a79b" fill-opacity="0.92" stroke="#333" stroke-opacity="0.8" stroke-width="0.6"/>
<circle cx="493.7" cy="404.7" r="2.38" fill="#ceafa7" fill-opacity="0.92" stroke="#333" stroke-opacity="0.95" stroke-width="0.75"/>
<circle cx="493.1" cy="406.6" r="2.38" fill="#ceb0a8" fill-opacity="0.92" stroke="#333" stroke-opacity="0.95" stroke-width="0.75"/>
<circle cx="498.1" cy="405.6" r="2.38" fill="#d2aca2" fill-opacity="0.92" stroke="#333" stroke-opacity="0.95" stroke-width="0.75"/>
<circle cx="506.5" cy="405.6" r="2.38" fill="#d7a598" fill-opacity="0.92" stroke="#333" stroke-opacity="0.8" stroke-width="0.6"/>
<circle cx="513.0" cy="398.6" r="2.40" fill="#dba091" fill-opacity="0.92" stroke="#333" stroke-opacity="0.8" stroke-width="0.6"/>
<circle cx="512.9" cy="398.4" r="2.40" fill="#dba091" fill-opacity="0.92" stroke="#333" stroke-opacity="0.8" stroke-width="0.6"/>
<circle cx="499.6" cy="370.1" r="2.49" fill="#d3aba0" fill-opacity="0.92" stroke="#333" stroke-opacity="0.8" stroke-width="0.6"/>
<circle cx="502.5" cy="369.1" r="2.50" fill="#d5a89d" fill-opacity="0.92" stroke="#333" stroke-opacity="0.8" stroke-width="0.6"/>
<circle cx="502.3" cy="369.0" r="2.50" fill="#d4a99d" fill-opacity="0.92" stroke="#333" stroke-opacity="0.8" stroke-width="0.6"/>
<circle cx="499.0" cy="337.7" r="2.59" fill="#d2aba1" fill-opacity="0.92" stroke="#333" stroke-opacity="0.8" stroke-width="0.6"/>
<circle cx="503.3" cy="342.3" r="2.58" fill="#d5a89c" fill-opacity="0.92" stroke="#333" stroke-opacity="0.8" stroke-width="0.6"/>
<circle cx="507.9" cy="321.7" r="2.63" fill="#d8a497" fill-opacity="0.92" stroke="#333" stroke-opacity="0.8" stroke-width="0.6"/>
<circle cx="520.0" cy="325.7" r="2.63" fill="#df9a89" fill-opacity="0.92" stroke="#333" stroke-opacity="0.8" stroke-width="0.6"/>
<circle cx="529.1" cy="320.2" r="2.63" fill="#e4937e" fill-opacity="0.92" stroke="#333" stroke-opacity="0.8" stroke-width="0.6"/>
<circle cx="526.9" cy="338.7" r="2.59" fill="#e39581" fill-opacity="0.92" stroke="#333" stroke-opacity="0.8" stroke-width="0.6"/>
<circle cx="530.6" cy="351.2" r="2.55" fill="#e5927c" fill-opacity="0.92" stroke="#333" stroke-opacity="0.8" stroke-width="0.6"/>
<circle cx="536.6" cy="350.2" r="2.56" fill="#e78d76" fill-opacity="0.92" stroke="#333" stroke-opacity="0.8" stroke-width="0.6"/>
<circle cx="545.0" cy="350.2" r="2.56" fill="#eb856c" fill-opacity="0.92" stroke="#333" stroke-opacity="0.8" stroke-width="0.6"/>
<circle cx="555.3" cy="348.3" r="2.56" fill="#ef7c61" fill-opacity="0.92" stroke="#333" stroke-opacity="0.8" stroke-width="0.6"/>
<circle cx="534.9" cy="357.6" r="2.53" fill="#e78e78" fill-opacity="0.92" stroke="#333" stroke-opacity="0.8" stroke-width="0.6"/>
<circle cx="546.1" cy="360.2" r="2.52" fill="#eb846b" fill-opacity="0.92" stroke="#333" stroke-opacity="0.8" stroke-width="0.6"/>
<circle cx="543.6" cy="364.1" r="2.51" fill="#ea876e" fill-opacity="0.92" stroke="#333" stroke-opacity="0.8" stroke-width="0.6"/>
<circle cx="537.7" cy="373.8" r="2.48" fill="#e88c74" fill-opacity="0.92" stroke="#333" stroke-opacity="0.8" stroke-width="0.6"/>
<circle cx="543.0" cy="372.5" r="2.48" fill="#ea876e" fill-opacity="0.92" stroke="#333" stroke-opacity="0.8" stroke-width="0.6"/>
<circle cx="537.7" cy="388.5" r="2.43" fill="#e88c74" fill-opacity="0.92" stroke="#333" stroke-opacity="0.8" stroke-width="0.6"/>
<circle cx="537.2" cy="389.0" r="2.43" fill="#e88c75" fill-opacity="0.92" stroke="#333" stroke-opacity="0.8" stroke-width="0.6"/>
<circle cx="634.1" cy="368.4" r="2.6" fill="#e81212" stroke="#a00" stroke-width="0.4"/>
<line x1="345.5" y1="297.5" x2="647.5" y2="297.5" stroke="#c0c0c0"/>
<line x1="345.5" y1="297" x2="345.5" y2="487" stroke="#b4b4b4"/>
<line x1="345" y1="486.5" x2="648" y2="486.5" stroke="#8e8e8e"/>
<line x1="647.5" y1="297" x2="647.5" y2="487" stroke="#8a8a8a"/>
<line x1="331" y1="294.8" x2="684" y2="294.8" stroke="#f6f6f6" stroke-width="0.8"/>
<line x1="343.5" y1="478.3" x2="345.5" y2="478.3" stroke="#666" stroke-width="0.8"/>
<text x="342.6" y="479.9" class="S" font-size="4.6" fill="#888" text-anchor="end">0</text>
<line x1="343.5" y1="430.9" x2="345.5" y2="430.9" stroke="#666" stroke-width="0.8"/>
<text x="342.6" y="432.5" class="S" font-size="4.6" fill="#888" text-anchor="end">1</text>
<line x1="343.5" y1="383.5" x2="345.5" y2="383.5" stroke="#666" stroke-width="0.8"/>
<text x="342.6" y="385.1" class="S" font-size="4.6" fill="#888" text-anchor="end">2</text>
<line x1="343.5" y1="336.1" x2="345.5" y2="336.1" stroke="#666" stroke-width="0.8"/>
<text x="342.6" y="337.7" class="S" font-size="4.6" fill="#888" text-anchor="end">3</text>
<line x1="407.4" y1="486.5" x2="407.4" y2="488.5" stroke="#666" stroke-width="0.8"/>
<text x="407.4" y="492.8" class="S" font-size="4.6" fill="#888" text-anchor="middle">-2.5</text>
<line x1="474.4" y1="486.5" x2="474.4" y2="488.5" stroke="#666" stroke-width="0.8"/>
<text x="474.4" y="492.8" class="S" font-size="4.6" fill="#888" text-anchor="middle">0.0</text>
<line x1="541.4" y1="486.5" x2="541.4" y2="488.5" stroke="#666" stroke-width="0.8"/>
<text x="541.4" y="492.8" class="S" font-size="4.6" fill="#888" text-anchor="middle">2.5</text>
<line x1="608.4" y1="486.5" x2="608.4" y2="488.5" stroke="#666" stroke-width="0.8"/>
<text x="608.4" y="492.8" class="S" font-size="4.6" fill="#888" text-anchor="middle">5.0</text>
<text x="486.3" y="498.4" class="S" font-size="5.3" fill="#333" textLength="20.3" lengthAdjust="spacingAndGlyphs">log2(FC)</text>
<text class="S" font-size="5.9" fill="#2a2a2a" text-anchor="middle" textLength="36.8" lengthAdjust="spacingAndGlyphs" transform="translate(337.8 386.2) rotate(-90)">-log10(p-value)</text>
<text x="353.5" y="316.7" class="R" font-size="10" font-weight="bold" stroke="#000" stroke-width="0.28" fill="#000" textLength="60.1" lengthAdjust="spacingAndGlyphs">Phenylalanine</text>
<text x="347.0" y="406.6" class="R" font-size="10" font-weight="bold" stroke="#000" stroke-width="0.28" fill="#000" textLength="41.1" lengthAdjust="spacingAndGlyphs">Aspartate</text>
<text x="478.6" y="316.0" class="R" font-size="10" font-weight="bold" stroke="#000" stroke-width="0.28" fill="#000" textLength="41.4" lengthAdjust="spacingAndGlyphs">Erythritol</text>
<text x="533.3" y="323.8" class="R" font-size="10" font-weight="bold" stroke="#000" stroke-width="0.28" fill="#000" textLength="36.5" lengthAdjust="spacingAndGlyphs">Fructose</text>
<text x="592.9" y="380.1" class="R" font-size="10" font-weight="bold" stroke="#000" stroke-width="0.28" fill="#000" textLength="52.1" lengthAdjust="spacingAndGlyphs">Glucose-6-P</text>
<rect x="357.7" y="280.3" width="23.6" height="9.9" fill="#7b55e8" stroke="#2c2c70" stroke-width="0.8"/>
<rect x="444.9" y="280.3" width="23.7" height="9.9" fill="#f25d3f" stroke="#2c2c70" stroke-width="0.8"/>
<rect x="518.1" y="279.6" width="23.2" height="10.3" fill="#7f7f7f" stroke="#2c2c70" stroke-width="0.8"/>
<text x="383.7" y="288.2" class="R" font-size="8.65" fill="#222" textLength="51.5" lengthAdjust="spacingAndGlyphs">Sig.Down (24)</text>
<text x="470.1" y="288.2" class="R" font-size="8.65" fill="#222" textLength="43" lengthAdjust="spacingAndGlyphs">Sig. Up (20)</text>
<text x="543.7" y="288.2" class="R" font-size="8.65" fill="#222" textLength="37.9" lengthAdjust="spacingAndGlyphs">Unsig. 107</text>
<text x="656" y="341.6" class="S" font-size="5.4" fill="#333" textLength="23" lengthAdjust="spacingAndGlyphs">Log2(FC)</text>
<defs><linearGradient id="cb" x1="0" y1="0" x2="0" y2="1"><stop offset="0.00" stop-color="#ff0000"/><stop offset="0.10" stop-color="#fc4124"/><stop offset="0.20" stop-color="#f66445"/><stop offset="0.30" stop-color="#ee7f64"/><stop offset="0.40" stop-color="#e29783"/><stop offset="0.50" stop-color="#d1ada3"/><stop offset="0.60" stop-color="#bcb9c0"/><stop offset="0.70" stop-color="#ae9ace"/><stop offset="0.80" stop-color="#9c7cda"/><stop offset="0.90" stop-color="#855de5"/><stop offset="1.00" stop-color="#643cf0"/></linearGradient></defs>
<rect x="656.2" y="344.9" width="7.9" height="41.8" fill="url(#cb)"/>
<line x1="656.2" y1="352.9" x2="657.8" y2="352.9" stroke="#fff" stroke-width="0.6"/><line x1="662.5" y1="352.9" x2="664.1" y2="352.9" stroke="#fff" stroke-width="0.6"/>
<line x1="656.2" y1="361.2" x2="657.8" y2="361.2" stroke="#fff" stroke-width="0.6"/><line x1="662.5" y1="361.2" x2="664.1" y2="361.2" stroke="#fff" stroke-width="0.6"/>
<line x1="656.2" y1="369.2" x2="657.8" y2="369.2" stroke="#fff" stroke-width="0.6"/><line x1="662.5" y1="369.2" x2="664.1" y2="369.2" stroke="#fff" stroke-width="0.6"/>
<line x1="656.2" y1="377.2" x2="657.8" y2="377.2" stroke="#fff" stroke-width="0.6"/><line x1="662.5" y1="377.2" x2="664.1" y2="377.2" stroke="#fff" stroke-width="0.6"/>
<line x1="656.2" y1="385.3" x2="657.8" y2="385.3" stroke="#fff" stroke-width="0.6"/><line x1="662.5" y1="385.3" x2="664.1" y2="385.3" stroke="#fff" stroke-width="0.6"/>
<text x="666.6" y="354.6" class="S" font-size="4.8" fill="#333">4</text>
<text x="666.6" y="362.9" class="S" font-size="4.8" fill="#333">2</text>
<text x="666.6" y="370.9" class="S" font-size="4.8" fill="#333">0</text>
<text x="666.6" y="378.9" class="S" font-size="4.8" fill="#333">-2</text>
<text x="666.6" y="387.0" class="S" font-size="4.8" fill="#333">-4</text>
<text x="655.7" y="401.9" class="S" font-size="5.4" fill="#333" textLength="18.3" lengthAdjust="spacingAndGlyphs">P-value</text>
<circle cx="659.9" cy="409.1" r="0.7" fill="none" stroke="#777" stroke-width="0.6"/>
<text x="666.7" y="410.8" class="S" font-size="4.8" fill="#333">1.0</text>
<circle cx="659.9" cy="417.2" r="1.8" fill="none" stroke="#777" stroke-width="0.6"/>
<text x="666.7" y="418.9" class="S" font-size="4.8" fill="#333">0.1</text>
<circle cx="659.9" cy="425.6" r="2.0" fill="none" stroke="#777" stroke-width="0.6"/>
<text x="666.7" y="427.3" class="S" font-size="4.8" fill="#333">0.05</text>
<circle cx="659.9" cy="433.9" r="2.2" fill="none" stroke="#777" stroke-width="0.6"/>
<text x="666.7" y="435.6" class="S" font-size="4.8" fill="#333">0.01</text>
<circle cx="659.9" cy="442.2" r="2.5" fill="none" stroke="#777" stroke-width="0.6"/>
<text x="666.7" y="443.9" class="S" font-size="4.8" fill="#333">0.001</text>
<text x="334.9" y="499.6" class="R" font-size="11" font-weight="bold" stroke="#000" stroke-width="0.28" fill="#000">D</text>
</svg>
</body></html>
